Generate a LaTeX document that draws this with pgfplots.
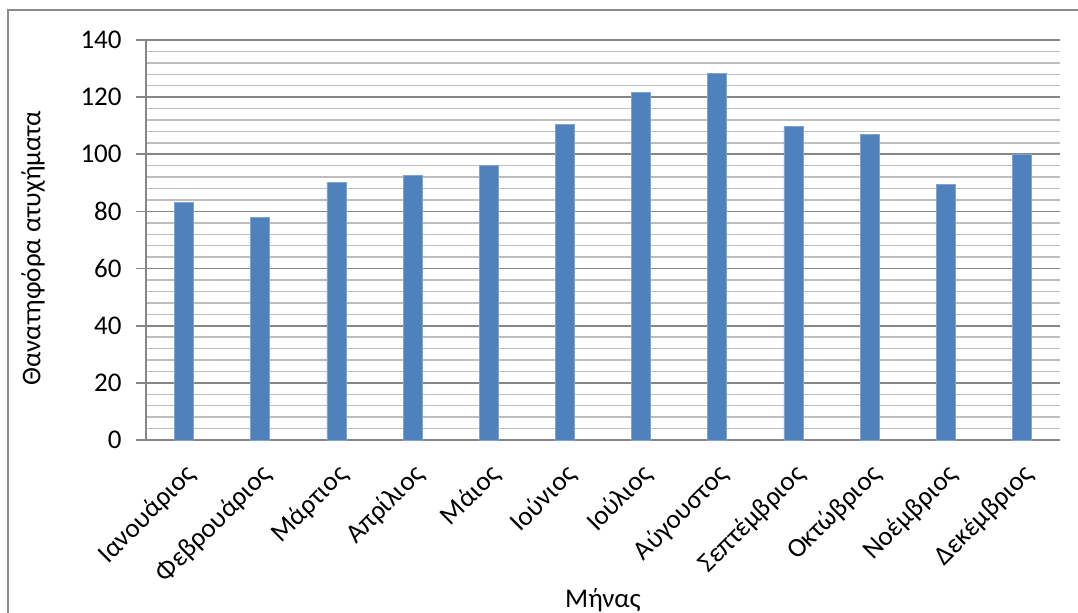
\documentclass[border=0pt]{standalone}
\usepackage{fontspec}
\setmainfont{Carlito}
\usepackage{pgfplots}
\pgfplotsset{compat=1.18}
\definecolor{barblue}{HTML}{4F81BD}
\definecolor{baredge}{HTML}{7FA3D3}
\definecolor{majgrid}{HTML}{868686}
\definecolor{mingrid}{HTML}{BEBEBE}
\definecolor{frame}{HTML}{8C8C8C}
\begin{document}
\begin{tikzpicture}
\useasboundingbox (0pt,0pt) rectangle (539pt,306pt);
\draw[frame, line width=0.8pt] (4pt,-10pt) -- (4pt,301pt) -- (545pt,301pt);
\begin{axis}[
  at={(73pt,86pt)}, anchor=south west,
  scale only axis, width=457pt, height=200pt,
  font=\fontsize{13.5}{15}\selectfont,
  /pgf/number format/assume math mode=true,
  ybar, bar width=9.5pt,
  xmin=-0.5, xmax=11.5, ymin=0, ymax=140,
  xtick=data,
  xticklabels={Ιανουάριος,Φεβρουάριος,Μάρτιος,Απρίλιος,Μάιος,Ιούνιος,Ιούλιος,Αύγουστος,Σεπτέμβριος,Οκτώβριος,Νοέμβριος,Δεκέμβριος},
  xticklabel style={xshift=-0.5pt, yshift=-6pt, rotate=45, anchor=north east, inner sep=0pt},
  ytick={0,20,...,140},
  minor y tick num=4,
  yticklabel style={inner sep=0pt, xshift=-7pt},
  axis x line=bottom, axis y line=left,
  axis line style={-, majgrid, line width=0.9pt},
  x axis line style={-},
  xtick style={draw=none},
  ytick style={majgrid, line width=0.9pt},
  major tick length=5pt, minor tick length=0pt,
  tick align=outside,
  ymajorgrids, yminorgrids,
  major grid style={majgrid, line width=0.9pt},
  minor grid style={mingrid, line width=0.75pt},
  ylabel={Θανατηφόρα ατυχήματα},
  ylabel style={at={(axis description cs:-0.1236,0.48)}, anchor=center, rotate=0},
  xlabel={Μήνας},
  xlabel style={at={(axis description cs:0.5,-0.4)}, anchor=center},
  clip=false,
]
\addplot[fill=barblue, draw=baredge, line width=0.4pt] coordinates {
(0,83.2) (1,77.9) (2,90.2) (3,92.7) (4,96.0) (5,110.3)
(6,121.8) (7,128.2) (8,109.8) (9,107.1) (10,89.6) (11,100.1)
};
\end{axis}
\end{tikzpicture}
\end{document}
